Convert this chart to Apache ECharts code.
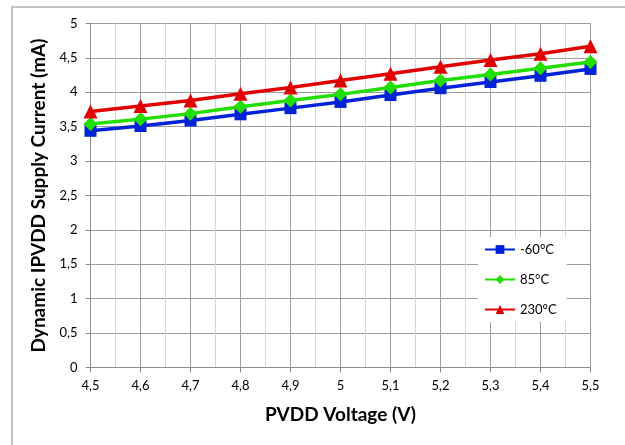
<!DOCTYPE html>
<html>
<head>
<meta charset="utf-8">
<script src="https://cdn.jsdelivr.net/npm/echarts@6/dist/echarts.min.js"></script>
<style>
html,body{margin:0;padding:0;background:#fff;}
#c{width:625px;height:445px;}
</style>
</head>
<body>
<div id="c"></div>
<script>
const voltages = [4.5, 4.6, 4.7, 4.8, 4.9, 5.0, 5.1, 5.2, 5.3, 5.4, 5.5];
const xTickLabels = ['4,5','4,6','4,7','4,8','4,9','5','5,1','5,2','5,3','5,4','5,5'];
const yTickLabels = ['0','0,5','1','1,5','2','2,5','3','3,5','4','4,5','5'];
const seriesNames = ['-60°C', '85°C', '230°C'];
const cur_m60 = [3.44, 3.51, 3.59, 3.68, 3.77, 3.86, 3.96, 4.06, 4.15, 4.24, 4.34];
const cur_85  = [3.54, 3.61, 3.69, 3.79, 3.88, 3.97, 4.07, 4.17, 4.26, 4.35, 4.44];
const cur_230 = [3.72, 3.80, 3.88, 3.98, 4.07, 4.17, 4.27, 4.37, 4.47, 4.56, 4.67];

const FONT = 'Lato, "Open Sans", sans-serif';
const pairs = (ys) => voltages.map((v, i) => [v, ys[i]]);

const chart = echarts.init(document.getElementById('c'), null, {renderer: 'canvas'});
chart.setOption({
  animation: false,
  backgroundColor: '#fff',
  graphic: [{
    type: 'rect', silent: true, z: -10,
    shape: {x: 12, y: 7, width: 800, height: 600},
    style: {fill: 'none', stroke: '#b0b0b0', lineWidth: 1.5}
  }],
  grid: {left: 90.5, right: 34.5, top: 23.5, bottom: 77.5, containLabel: false},
  legend: {
    orient: 'vertical', left: 478, top: 237,
    itemWidth: 30, itemHeight: 11, itemGap: 17,
    backgroundColor: '#fff', padding: [6, 10, 6, 6],
    textStyle: {fontFamily: FONT, fontSize: 13, color: '#000'},
    data: seriesNames
  },
  xAxis: {
    type: 'value', min: 4.5, max: 5.5, interval: 0.1,
    name: 'PVDD Voltage (V)', nameLocation: 'middle', nameGap: 38,
    nameTextStyle: {fontFamily: FONT, fontSize: 19, fontWeight: 'bold', color: '#000'},
    axisLine: {show: true, lineStyle: {color: '#8c8c8c', width: 1}},
    axisTick: {show: true, inside: false, length: 5, lineStyle: {color: '#8c8c8c'}},
    minorTick: {show: false, splitNumber: 2},
    axisLabel: {
      margin: 12, fontFamily: FONT, fontSize: 13, color: '#000',
      formatter: (v) => { const i = Math.round((v - voltages[0]) / 0.1); return xTickLabels[i] ?? ''; }
    },
    splitLine: {show: true, lineStyle: {color: '#9c9c9c', width: 1}},
    minorSplitLine: {show: true, lineStyle: {color: '#d4d4d4', width: 1}}
  },
  yAxis: {
    type: 'value', min: 0, max: 5, interval: 0.5,
    name: 'Dynamic IPVDD Supply Current (mA)', nameLocation: 'middle', nameGap: 39,
    nameTextStyle: {fontFamily: FONT, fontSize: 19, fontWeight: 'bold', color: '#000'},
    axisLine: {show: true, lineStyle: {color: '#8c8c8c', width: 1}},
    axisTick: {show: true, inside: false, length: 5, lineStyle: {color: '#8c8c8c'}},
    axisLabel: {
      margin: 13, fontFamily: FONT, fontSize: 13, color: '#000',
      formatter: (v) => yTickLabels[Math.round(v / 0.5)] ?? ''
    },
    splitLine: {show: true, lineStyle: {color: '#9c9c9c', width: 1}}
  },
  series: [
    {name: seriesNames[0], type: 'line', data: pairs(cur_m60), color: '#0022d8',
     symbol: 'rect', symbolSize: 12, lineStyle: {width: 3.5}, itemStyle: {color: '#0022d8'}, z: 3},
    {name: seriesNames[1], type: 'line', data: pairs(cur_85), color: '#22dd00',
     symbol: 'diamond', symbolSize: 14, lineStyle: {width: 3.5}, itemStyle: {color: '#22dd00'}, z: 4},
    {name: seriesNames[2], type: 'line', data: pairs(cur_230), color: '#e00000',
     symbol: 'triangle', symbolSize: 14, lineStyle: {width: 3.5}, itemStyle: {color: '#e00000'}, z: 5}
  ]
});
</script>
</body>
</html>
